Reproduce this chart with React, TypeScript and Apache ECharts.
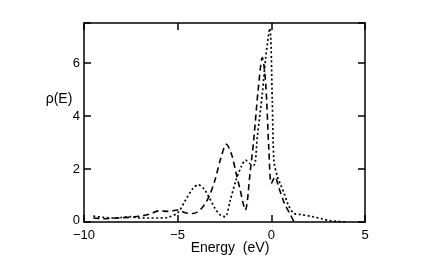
import React, { useEffect, useRef } from "react";
import * as echarts from "echarts";

const dashedEnergy = [-9.5, -9.0, -8.5, -8.0, -7.5, -7.0, -6.5, -6.0, -5.5, -5.0, -4.6, -4.2, -3.9, -3.6, -3.3, -3.0, -2.7, -2.4, -2.1, -1.9, -1.66, -1.39, -1.12, -0.94, -0.7, -0.48, -0.3, -0.13, 0.0, 0.2, 0.4, 0.7, 1.0, 1.2];
const dashedRho = [0.15, 0.12, 0.14, 0.16, 0.18, 0.22, 0.3, 0.42, 0.4, 0.45, 0.35, 0.32, 0.4, 0.62, 1.0, 1.6, 2.4, 2.93, 2.5, 1.9, 1.2, 0.45, 1.95, 3.1, 5.0, 6.2, 5.2, 2.7, 1.45, 1.7, 1.3, 0.7, 0.3, 0.02];

const dottedEnergy = [-9.5, -9.0, -8.5, -8.0, -7.5, -7.0, -6.5, -6.0, -5.5, -5.0, -4.6, -4.2, -3.9, -3.6, -3.3, -3.0, -2.7, -2.46, -2.2, -1.9, -1.6, -1.38, -1.15, -0.92, -0.75, -0.48, -0.3, -0.08, 0.05, 0.14, 0.33, 0.5, 0.7, 0.9, 1.2, 1.6, 2.2, 2.7, 3.1, 3.6, 4.0];
const dottedRho = [0.22, 0.18, 0.15, 0.17, 0.2, 0.15, 0.15, 0.15, 0.18, 0.35, 0.8, 1.25, 1.4, 1.25, 0.9, 0.5, 0.25, 0.2, 0.8, 1.55, 2.1, 2.33, 2.2, 2.15, 3.2, 4.85, 6.2, 7.3, 4.6, 2.3, 1.7, 1.4, 1.05, 0.65, 0.33, 0.28, 0.2, 0.12, 0.05, 0.02, 0.0];

const xTicks = [-10, -5, 0, 5];
const yTicks = [0, 2, 4, 6];
const xTitle = "Energy  (eV)";
const yTitle = "ρ(E)";

export default function App() {
  const ref = useRef<HTMLDivElement>(null);
  useEffect(() => {
    const chart = echarts.init(ref.current!, null, { renderer: "svg" });
    const font = "'Liberation Sans', Arial, Helvetica, sans-serif";
    const axisLine = { show: true, onZero: false, lineStyle: { color: "#000", width: 1.5 } };
    const axisTick = { show: true, inside: true, length: 7, lineStyle: { color: "#000", width: 1.5 } };
    const xCommon = {
      type: "value" as const,
      min: xTicks[0],
      max: xTicks[xTicks.length - 1],
      interval: 5,
      splitLine: { show: false },
      axisLine,
      axisTick,
    };
    const yCommon = {
      type: "value" as const,
      min: 0,
      max: 7.5,
      interval: 2,
      splitLine: { show: false },
      axisLine,
      axisTick,
    };
    chart.setOption({
      animation: false,
      grid: { left: 84, right: 60, top: 23, bottom: 35, containLabel: false },
      xAxis: [
        {
          ...xCommon,
          position: "bottom",
          axisLabel: {
            color: "#000",
            fontSize: 13,
            fontFamily: font,
            lineHeight: 11,
            margin: 7,
            formatter: (v: number) =>
              xTicks.includes(v) ? (v < 0 ? "\u2212" + Math.abs(v) : String(v)) : "",
          },
        },
        { ...xCommon, position: "top", axisLabel: { show: false } },
      ],
      yAxis: [
        {
          ...yCommon,
          position: "left",
          axisLabel: {
            color: "#000",
            fontSize: 13,
            fontFamily: font,
            lineHeight: 11,
            margin: 4,
            formatter: (v: number) =>
              yTicks.includes(v) ? (v === 0 ? "{z|0}" : String(v)) : "",
            rich: {
              z: { fontSize: 13, fontFamily: font, color: "#000", lineHeight: 10, padding: [0, 0, 5, 0] },
            },
          },
        },
        { ...yCommon, position: "right", axisLabel: { show: false } },
      ],
      graphic: [
        {
          type: "text",
          x: 230,
          y: 247,
          style: { text: xTitle, fill: "#000", font: `14px ${font}`, align: "center", verticalAlign: "middle" },
        },
        {
          type: "text",
          x: 59,
          y: 98,
          style: { text: yTitle, fill: "#000", font: `14px ${font}`, align: "center", verticalAlign: "middle" },
        },
      ],
      series: [
        {
          type: "line",
          data: dashedEnergy.map((e, i) => [e, dashedRho[i]]),
          showSymbol: false,
          smooth: 0.3,
          lineStyle: { color: "#000", width: 1.6, type: [6, 4] },
        },
        {
          type: "line",
          data: dottedEnergy.map((e, i) => [e, dottedRho[i]]),
          showSymbol: false,
          smooth: 0.3,
          lineStyle: { color: "#000", width: 1.7, type: [2, 2.5] },
        },
      ],
    });
    return () => chart.dispose();
  }, []);
  return <div ref={ref} style={{ position: "fixed", left: 0, top: 0, width: 425, height: 257 }} />;
}
